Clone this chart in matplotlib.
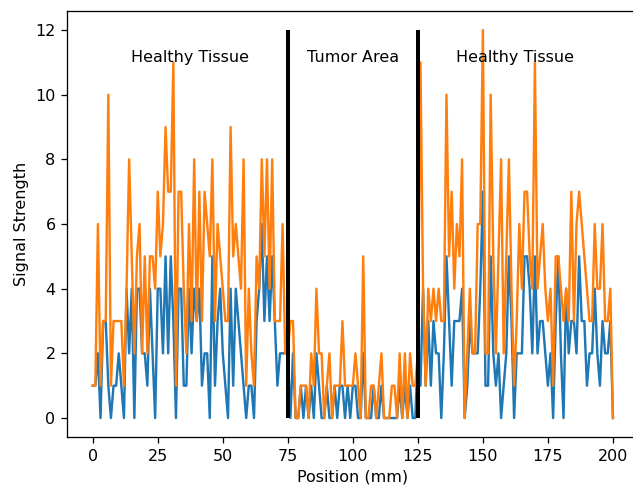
import numpy as np
import matplotlib
matplotlib.use("Agg")
import matplotlib.pyplot as plt

# signal values, one per mm from 0 to 200
position = np.arange(0, 201)

channel_a = [
    1, 1, 2, 0, 3, 3, 1, 0, 1, 1, 2, 1, 0, 4, 2, 4, 0, 4, 4, 2,
    2, 1, 4, 2, 0, 4, 4, 2, 5, 2, 5, 3, 0, 4, 4, 1, 1, 4, 2, 4,
    3, 4, 1, 2, 2, 0, 5, 1, 3, 4, 2, 1, 0, 4, 1, 4, 3, 2, 1, 0,
    1, 1, 0, 3, 4, 6, 3, 5, 3, 5, 3, 1, 2, 2, 2, 2, 0, 2, 0, 0,
    1, 0, 1, 0, 1, 0, 2, 1, 0, 0, 1, 0, 0, 1, 0, 1, 1, 0, 1, 0,
    1, 1, 0, 0, 2, 0, 0, 0, 1, 0, 0, 1, 0, 0, 0, 0, 0, 0, 1, 0,
    1, 0, 1, 0, 0, 2, 1, 4, 1, 3, 1, 3, 2, 2, 0, 2, 5, 3, 1, 3,
    3, 3, 4, 0, 1, 3, 2, 2, 2, 4, 7, 1, 1, 5, 2, 1, 2, 0, 1, 2,
    5, 3, 0, 2, 2, 2, 5, 5, 4, 2, 5, 2, 3, 3, 2, 1, 2, 0, 3, 5,
    2, 0, 4, 2, 3, 3, 2, 5, 3, 3, 1, 2, 2, 4, 2, 1, 3, 2, 2, 3,
    0,
]

channel_b = [
    1, 1, 6, 1, 3, 3, 10, 1, 3, 3, 3, 3, 1, 4, 8, 5, 2, 5, 6, 2,
    5, 2, 5, 5, 4, 7, 5, 6, 9, 7, 7, 11, 1, 7, 7, 4, 2, 6, 3, 8,
    3, 7, 3, 7, 6, 5, 8, 3, 6, 5, 4, 3, 3, 9, 5, 6, 5, 4, 8, 1,
    4, 2, 1, 5, 4, 8, 5, 8, 4, 8, 3, 3, 3, 6, 2, 2, 3, 3, 0, 0,
    1, 1, 1, 0, 2, 1, 4, 2, 2, 0, 1, 2, 0, 1, 1, 1, 3, 1, 1, 1,
    1, 2, 1, 0, 5, 0, 0, 1, 1, 0, 1, 2, 0, 0, 0, 1, 1, 0, 2, 0,
    2, 0, 2, 1, 1, 2, 11, 4, 1, 4, 3, 4, 3, 4, 3, 3, 10, 5, 7, 4,
    6, 5, 8, 0, 2, 4, 2, 2, 6, 6, 12, 2, 2, 10, 5, 2, 5, 8, 2, 5,
    8, 4, 1, 3, 6, 4, 7, 7, 5, 4, 11, 4, 5, 6, 4, 3, 4, 1, 5, 5,
    4, 3, 4, 3, 7, 3, 6, 7, 6, 5, 4, 3, 3, 6, 4, 4, 6, 3, 3, 4,
    0,
]

boundaries = [75, 125]
region_labels = ["Healthy Tissue", "Tumor Area", "Healthy Tissue"]
label_x = [37.5, 100, 162.5]

dpi = 115
fig = plt.figure(figsize=(633 / dpi, 485 / dpi), dpi=dpi)
ax = fig.add_axes([0.1054, 0.0981, 0.904, 0.880])

ax.plot(position, channel_a, color="tab:blue")
ax.plot(position, channel_b, color="tab:orange")

ax.vlines(boundaries, 0, 12, colors="black", linewidth=2.5)
for x, txt in zip(label_x, region_labels):
    ax.text(x, 11, txt, ha="center")

ax.set_xlabel("Position (mm)")
ax.set_ylabel("Signal Strength")

fig.savefig("out.png", dpi=dpi)
